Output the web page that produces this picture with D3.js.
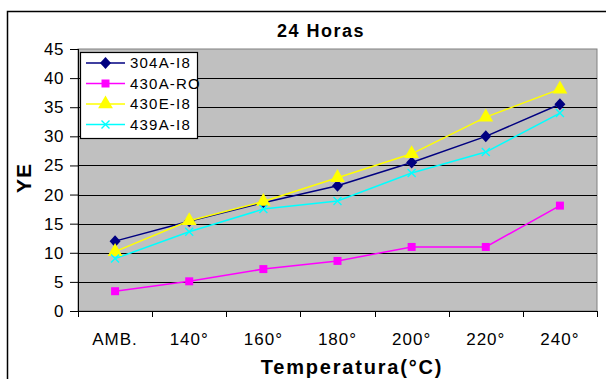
<!DOCTYPE html>
<html>
<head>
<meta charset="utf-8">
<script src="https://cdn.jsdelivr.net/npm/d3@7"></script>
<style>
  body { margin: 0; background: #fff; }
  text { font-family: Arial, "Liberation Sans", sans-serif; }
</style>
</head>
<body>
<div id="chart"></div>
<script>
var categories = ["AMB.", "140°", "160°", "180°", "200°", "220°", "240°"];
var yTicks = [0, 5, 10, 15, 20, 25, 30, 35, 40, 45];
var seriesNames = ["304A-I8", "430A-RO", "430E-I8", "439A-I8"];
var s304A = [12.0, 15.4, 18.6, 21.5, 25.5, 30.0, 35.5];
var s430A = [3.4, 5.1, 7.2, 8.6, 11.0, 11.0, 18.1];
var s430E = [10.2, 15.5, 18.8, 22.9, 27.0, 33.3, 38.1];
var s439A = [9.0, 13.6, 17.5, 18.9, 23.7, 27.3, 34.0];

var series = [
  {name: seriesNames[0], values: s304A, color: "#000080", marker: "diamond"},
  {name: seriesNames[1], values: s430A, color: "#ff00ff", marker: "square"},
  {name: seriesNames[2], values: s430E, color: "#ffff00", marker: "triangle"},
  {name: seriesNames[3], values: s439A, color: "#00ffff", marker: "x"}
];

var W = 606, H = 379;
var margin = {top: 49, right: 9, bottom: 68, left: 78},
    width = W - margin.left - margin.right,
    height = H - margin.top - margin.bottom;

var svg = d3.select("#chart")
  .append("svg")
    .attr("width", W)
    .attr("height", H);

// outer frame
svg.append("rect")
  .attr("x", 7.5).attr("y", 11.5)
  .attr("width", W + 10).attr("height", H + 10)
  .attr("fill", "#fff")
  .attr("stroke", "#000")
  .attr("stroke-width", 1.5);

var g = svg.append("g")
  .attr("transform", "translate(" + margin.left + "," + margin.top + ")");

var x = d3.scaleBand().domain(categories).range([0, width]);
var y = d3.scaleLinear().domain([0, 45]).range([height, 0]);

// plot background
g.append("rect")
  .attr("width", width).attr("height", height)
  .attr("fill", "#c0c0c0")
  .attr("stroke", "#808080");

// gridlines
g.append("g")
  .selectAll("line")
  .data(yTicks.filter(function (d) { return d > 0 && d < 45; }))
  .enter()
  .append("line")
    .attr("x1", 0).attr("x2", width)
    .attr("y1", function (d) { return Math.round(y(d)) + 0.5; })
    .attr("y2", function (d) { return Math.round(y(d)) + 0.5; })
    .attr("stroke", "#000");

// Y axis
var yAxis = g.append("g")
  .call(d3.axisLeft(y).tickValues(yTicks).tickSize(8).tickPadding(6));
yAxis.selectAll("text").style("font-size", "17px").style("letter-spacing", "0.5px").attr("fill", "#000");
yAxis.select(".domain").attr("d", "M0.5,0V" + height).attr("stroke", "#000");

// X axis
var xAxis = g.append("g")
  .attr("transform", "translate(0," + height + ")");
xAxis.append("line")
  .attr("x1", 0).attr("x2", width)
  .attr("y1", 0.5).attr("y2", 0.5)
  .attr("stroke", "#000");
xAxis.selectAll(".tk")
  .data(d3.range(categories.length + 1))
  .enter()
  .append("line")
    .attr("x1", function (i) { return Math.round(i * x.step()) + 0.5; })
    .attr("x2", function (i) { return Math.round(i * x.step()) + 0.5; })
    .attr("y1", 0).attr("y2", 6)
    .attr("stroke", "#000");
xAxis.selectAll(".lab")
  .data(categories)
  .enter()
  .append("text")
    .attr("x", function (d) { return x(d) + x.bandwidth() / 2; })
    .attr("y", 34)
    .attr("text-anchor", "middle")
    .style("font-size", "17px")
    .style("letter-spacing", "1px")
    .text(function (d) { return d; });

// Lines
var line = d3.line()
  .x(function (d, i) { return x(categories[i]) + x.bandwidth() / 2; })
  .y(function (d) { return y(d); });

series.forEach(function (s) {
  g.append("path")
    .datum(s.values)
    .attr("fill", "none")
    .attr("stroke", s.color)
    .attr("stroke-width", 1.5)
    .attr("d", line);
});

function drawMarker(sel, type, color) {
  if (type === "x") {
    sel.append("path")
      .attr("d", "M-4,-4L4,4M-4,4L4,-4")
      .attr("stroke", color).attr("stroke-width", 1.4).attr("fill", "none");
  } else if (type === "diamond") {
    sel.append("path")
      .attr("d", "M0,-6L5.5,0L0,6L-5.5,0Z")
      .attr("fill", color);
  } else {
    var sym = type === "square" ? d3.symbolSquare : d3.symbolTriangle;
    var size = type === "square" ? 64 : 95;
    sel.append("path")
      .attr("d", d3.symbol().type(sym).size(size))
      .attr("fill", color);
  }
}

series.forEach(function (s) {
  s.values.forEach(function (v, i) {
    var m = g.append("g")
      .attr("transform", "translate(" + (x(categories[i]) + x.bandwidth() / 2) + "," + y(v) + ")");
    drawMarker(m, s.marker, s.color);
  });
});

// Legend
var legend = svg.append("g").attr("transform", "translate(80,52)");
legend.append("rect")
  .attr("x", 0.5).attr("y", 0.5)
  .attr("width", 117).attr("height", 86)
  .attr("fill", "#fff").attr("stroke", "#000").attr("stroke-width", 1.2);
series.forEach(function (s, i) {
  var ly = 11 + i * 20.5;
  legend.append("line")
    .attr("x1", 6).attr("x2", 45)
    .attr("y1", ly).attr("y2", ly)
    .attr("stroke", s.color).attr("stroke-width", 1.5);
  var m = legend.append("g").attr("transform", "translate(25.5," + ly + ")");
  drawMarker(m, s.marker, s.color);
  legend.append("text")
    .attr("x", 50).attr("y", ly)
    .attr("dy", "0.35em")
    .style("font-size", "15px")
    .style("letter-spacing", "1.2px")
    .text(s.name);
});

// Title
svg.append("text")
  .attr("x", 321).attr("y", 37)
  .attr("text-anchor", "middle")
  .style("font-size", "18px")
  .style("font-weight", "bold")
  .style("letter-spacing", "1.5px")
  .text("24 Horas");

// Axis titles
svg.append("text")
  .attr("x", 352).attr("y", 374)
  .attr("text-anchor", "middle")
  .style("font-size", "20px")
  .style("font-weight", "bold")
  .style("letter-spacing", "1.8px")
  .text("Temperatura(°C)");

svg.append("text")
  .attr("transform", "translate(31,178) rotate(-90)")
  .attr("text-anchor", "middle")
  .style("font-size", "21px")
  .style("font-weight", "bold")
  .style("letter-spacing", "1px")
  .text("YE");
</script>
</body>
</html>
